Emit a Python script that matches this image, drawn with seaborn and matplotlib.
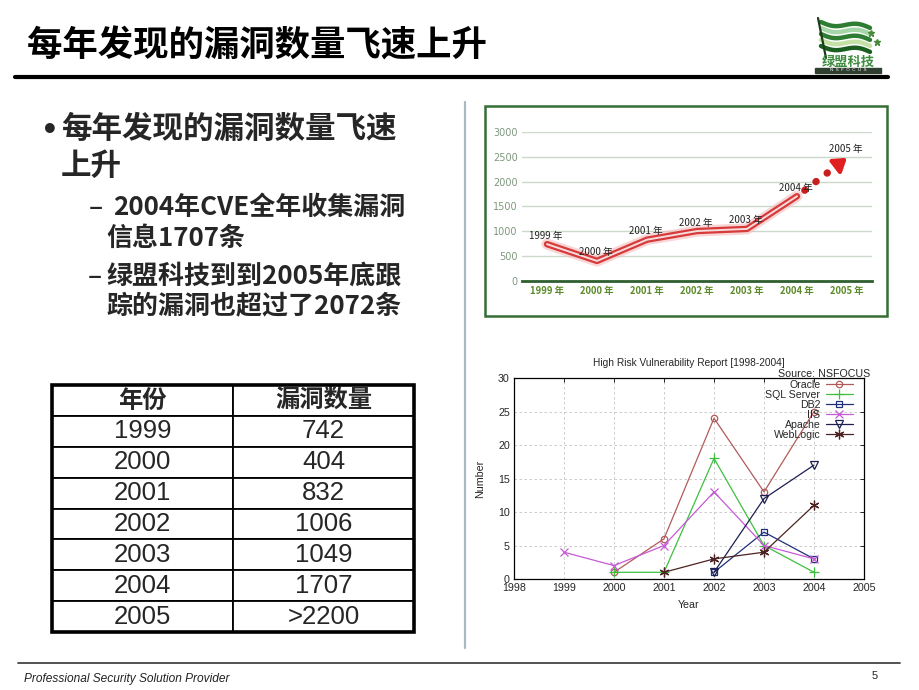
import numpy as np
import pandas as pd
import matplotlib
matplotlib.use("Agg")
import matplotlib.pyplot as plt
import seaborn as sns
from matplotlib.patches import Rectangle
from matplotlib.lines import Line2D

# ---------------- data ----------------
title_text = "每年发现的漏洞数量飞速上升"
bullet_main = ["每年发现的漏洞数量飞速", "上升"]
bullet_sub1 = ["2004年CVE全年收集漏洞", "信息1707条"]
bullet_sub2 = ["绿盟科技到到2005年底跟", "踪的漏洞也超过了2072条"]

cve_years = ["1999", "2000", "2001", "2002", "2003", "2004", "2005"]
cve_counts = [742, 404, 832, 1006, 1049, 1707]          # 1999-2004 solid line
cve_projection = [1707, 2480]                            # dotted forecast 2004 -> 2005
cve_yticks = [0, 500, 1000, 1500, 2000, 2500, 3000]

table_header = ["年份", "漏洞数量"]
table_years = ["1999", "2000", "2001", "2002", "2003", "2004", "2005"]
table_counts = ["742", "404", "832", "1006", "1049", "1707", ">2200"]

hr_title = "High Risk Vulnerability Report [1998-2004]"
hr_source = "Source: NSFOCUS"
oracle_years = [2000, 2001, 2002, 2003, 2004]
oracle_counts = [1, 6, 24, 13, 25]
sqlserver_years = [2000, 2001, 2002, 2003, 2004]
sqlserver_counts = [1, 1, 18, 5, 1]
db2_years = [2002, 2003, 2004]
db2_counts = [1, 7, 3]
iis_years = [1999, 2000, 2001, 2002, 2003, 2004]
iis_counts = [4, 2, 5, 13, 5, 3]
apache_years = [2002, 2003, 2004]
apache_counts = [1, 12, 17]
weblogic_years = [2001, 2002, 2003, 2004]
weblogic_counts = [1, 3, 4, 11]

footer_text = "Professional Security Solution Provider"
page_number = "5"

# ---------------- style ----------------
sns.set_style("white")
plt.rcParams["font.family"] = ["Noto Sans CJK SC", "DejaVu Sans"]
plt.rcParams["axes.unicode_minus"] = False
LAT = ["Liberation Sans", "DejaVu Sans"]

W, H = 920, 690
fig = plt.figure(figsize=(9.2, 6.9), dpi=100)
fig.patch.set_facecolor("white")


def box(l, t, r, b):
    return [l / W, 1 - b / H, (r - l) / W, (b - t) / H]


def fx(x):
    return x / W


def fy(y):
    return 1 - y / H


# ---------------- title & rules ----------------
fig.text(fx(27), fy(46), title_text, fontsize=25.5, fontweight="bold",
         va="center", ha="left", color="black")
fig.add_artist(Line2D([fx(15), fx(888)], [fy(77), fy(77)], color="black", lw=3))
fig.add_artist(Line2D([fx(465), fx(465)], [fy(102), fy(648)], color="#a9b9c3", lw=1.6))
fig.add_artist(Line2D([fx(18), fx(900)], [fy(663), fy(663)], color="#444444", lw=1.3))

# ---------------- logo ----------------
lax = fig.add_axes(box(808, 4, 894, 76))
lax.set_xlim(808, 894)
lax.set_ylim(76, 4)
lax.axis("off")
greens = ["#2e7d32", "#a5d6a7", "#2e7d32", "#c5e1a5", "#1b5e20"]
for k, g in enumerate(greens):
    xs = np.linspace(821, 870, 40)
    ys = 22 + k * 6 + 2.5 * np.sin((xs - 821) / 49 * 2 * np.pi) + (xs - 821) * 0.12
    lax.plot(xs, ys, color=g, lw=3.2, solid_capstyle="round")
lax.plot([818, 826], [18, 58], color="#1b3d1b", lw=1.6)
lax.plot([871, 877], [33, 42], ls="none", marker="*", ms=5, color="#4a8a3a")
lax.text(848, 62, "绿盟科技", fontsize=9.5, fontweight="bold", color="#3d8b3d",
         ha="center", va="center")
lax.add_patch(Rectangle((815, 68), 66, 4.5, color="#2f3f2f"))
lax.text(848, 70.3, "N  S  F  O  C  U  S", fontsize=3.2, color="white",
         ha="center", va="center", family=LAT)

# ---------------- bullet text ----------------
fig.text(fx(50), fy(131), "•", fontsize=20, fontweight="bold", va="center",
         ha="center", family=["DejaVu Sans"])
fig.text(fx(61), fy(129), bullet_main[0], fontsize=22, fontweight="bold", va="center")
fig.text(fx(61), fy(166), bullet_main[1], fontsize=22, fontweight="bold", va="center")
fig.text(fx(89), fy(207), "–", fontsize=18.7, fontweight="bold", va="center")
fig.text(fx(113), fy(207), bullet_sub1[0], fontsize=18.7, fontweight="bold", va="center")
fig.text(fx(106), fy(238), bullet_sub1[1], fontsize=18.7, fontweight="bold", va="center")
fig.text(fx(88), fy(276), "–", fontsize=18.7, fontweight="bold", va="center")
fig.text(fx(106), fy(276), bullet_sub2[0], fontsize=18.7, fontweight="bold", va="center")
fig.text(fx(106), fy(306), bullet_sub2[1], fontsize=18.7, fontweight="bold", va="center")

# ---------------- table ----------------
tax = fig.add_axes(box(52, 385, 414, 632))
tax.axis("off")
rows = [[y, c] for y, c in zip(table_years, table_counts)]
tbl = tax.table(cellText=rows, colLabels=table_header, cellLoc="center",
                bbox=[0, 0, 1, 1])
tbl.auto_set_font_size(False)
for (r, c), cell in tbl.get_celld().items():
    cell.set_linewidth(1.3)
    cell.set_edgecolor("black")
    txt = cell.get_text()
    if r == 0:
        txt.set_fontsize(17.5)
        txt.set_fontweight("bold")
    else:
        txt.set_fontsize(18.5)
        txt.set_fontfamily(LAT)
tax.add_patch(Rectangle((0, 0), 1, 1, transform=tax.transAxes, fill=False,
                        edgecolor="black", lw=2.6, clip_on=False, zorder=5))

# ---------------- top chart (CVE counts) ----------------
fig.add_artist(Rectangle((fx(485), fy(316)), fx(887) - fx(485), fy(106) - fy(316),
                         transform=fig.transFigure, fill=False,
                         edgecolor="#356d35", lw=1.8))
ax1 = fig.add_axes(box(522, 132, 872, 281))
pos_all = np.arange(len(cve_years))
pos_solid = pos_all[:len(cve_counts)]
pos_proj = pos_all[len(cve_counts) - 1:]

ax1.set_ylim(0, 3000)
ax1.set_xlim(-0.5, len(cve_years) - 0.5)
ax1.set_yticks(cve_yticks)
ax1.yaxis.grid(True, color="#cbd9cb", lw=1)
ax1.set_axisbelow(True)

# projection (dotted) with arrow head
sns.lineplot(x=pos_proj, y=cve_projection, ax=ax1, color="#c81e1e", lw=5.2,
             linestyle=(0.6, (0.05, 1.9)), sort=False)
ax1.get_lines()[-1].set_dash_capstyle("round")
tail_x = pos_proj[0] + 0.8 * (pos_proj[1] - pos_proj[0])
tail_y = cve_projection[0] + 0.8 * (cve_projection[1] - cve_projection[0])
ax1.annotate("", xy=(pos_proj[1], cve_projection[1]), xytext=(tail_x, tail_y),
             arrowprops=dict(arrowstyle="-|>,head_length=0.75,head_width=0.5",
                             color="#e02020", lw=3, shrinkA=0, shrinkB=0))

# solid line with glow / tube effect
sns.lineplot(x=pos_solid, y=cve_counts, ax=ax1, color="#f6b9b9", lw=8, sort=False, alpha=0.6)
sns.lineplot(x=pos_solid, y=cve_counts, ax=ax1, color="#d63a3a", lw=4.6, sort=False)
sns.lineplot(x=pos_solid, y=cve_counts, ax=ax1, color="#f7dada", lw=1.4, sort=False)

for p, v, yr in zip(pos_solid, cve_counts, cve_years):
    ax1.annotate(f"{yr} 年", (p, v), xytext=(-1, 2.5), textcoords="offset points",
                 ha="center", va="bottom", fontsize=7, color="#222222")
ax1.annotate(f"{cve_years[-1]} 年", (pos_proj[1], cve_projection[1]), xytext=(-1, 2.5),
             textcoords="offset points", ha="center", va="bottom", fontsize=7,
             color="#222222")

for s in ["top", "right", "left"]:
    ax1.spines[s].set_visible(False)
ax1.spines["bottom"].set_color("#2f5f2f")
ax1.spines["bottom"].set_linewidth(2)
ax1.set_xticks(pos_all)
ax1.set_xticklabels([f"{y} 年" for y in cve_years], fontsize=6.8, fontweight="bold",
                    color="#5d8a2a")
ax1.set_xticks(np.arange(-0.5, len(cve_years), 1.0), minor=True)
ax1.tick_params(axis="x", which="major", length=0, pad=3.5)
ax1.tick_params(axis="x", which="minor", length=4, width=1.5, direction="inout",
                color="#2f5f2f")
ax1.tick_params(axis="y", length=0, pad=3, labelsize=7, labelcolor="#7d987d")
for t in ax1.get_yticklabels():
    t.set_fontfamily(["DejaVu Sans"])
ax1.set_xlabel("")
ax1.set_ylabel("")
ax1.patch.set_alpha(0)

# ---------------- bottom chart (high-risk vulnerabilities) ----------------
ax2 = fig.add_axes(box(514, 378, 864, 579))
series = [
    ("Oracle", oracle_years, oracle_counts, "#b25a5a", "o", 4.6),
    ("SQL Server", sqlserver_years, sqlserver_counts, "#3fbf3f", "+", 6.5),
    ("DB2", db2_years, db2_counts, "#1f2f7a", "s", 5.0),
    ("IIS", iis_years, iis_counts, "#c65ad6", "x", 5.5),
    ("Apache", apache_years, apache_counts, "#1c1f4f", "v", 6.0),
    ("WebLogic", weblogic_years, weblogic_counts, "#4d2222", (6, 2, 0), 7.0),
]
for name, yrs, cnts, col, mk, ms in series:
    sns.lineplot(x=yrs, y=cnts, ax=ax2, color=col, lw=0.9, marker=mk, ms=ms,
                 mfc="none", mec=col, mew=0.9, label=name, sort=False)

ax2.set_xlim(1998, 2005)
ax2.set_ylim(0, 30)
ax2.set_xticks(range(1998, 2006))
ax2.set_yticks(range(0, 31, 5))
ax2.grid(True, color="#c4c4c4", lw=0.6, linestyle=(0, (3, 3)))
for s in ax2.spines.values():
    s.set_color("black")
    s.set_linewidth(0.9)
    s.set_visible(True)
ax2.tick_params(axis="both", direction="in", length=3, width=0.7, labelsize=7.7,
                top=True, right=True, pad=3)
for t in ax2.get_xticklabels() + ax2.get_yticklabels():
    t.set_fontfamily(LAT)
ax2.set_xlabel("Year", fontsize=7.7, family=LAT)
ax2.set_ylabel("Number", fontsize=7.7, family=LAT)
ax2.xaxis.set_label_coords(0.5, -0.105)
ax2.yaxis.set_label_coords(-0.083, 0.5)
ax2.set_title(hr_title, fontsize=7.3, family=LAT, pad=9)
ax2.text(1.017, 1.022, hr_source, transform=ax2.transAxes, ha="right", va="center",
         fontsize=7.7, family=LAT)

leg = ax2.legend(loc="upper right", bbox_to_anchor=(0.969, 0.992), frameon=False,
                 markerfirst=False, fontsize=7.6, labelspacing=0.0, handlelength=2.6,
                 handletextpad=0.5, borderaxespad=0, borderpad=0)
for t in leg.get_texts():
    t.set_fontfamily(LAT)
for col in leg._legend_handle_box.get_children():
    col.align = "right"

# ---------------- footer ----------------
fig.text(fx(24), fy(679), footer_text, fontsize=8.6, style="italic", family=LAT,
         va="center", ha="left", color="#222222")
fig.text(fx(875), fy(676), page_number, fontsize=8, family=LAT, va="center", ha="center")

fig.savefig("out.png", dpi=100, facecolor="white")
